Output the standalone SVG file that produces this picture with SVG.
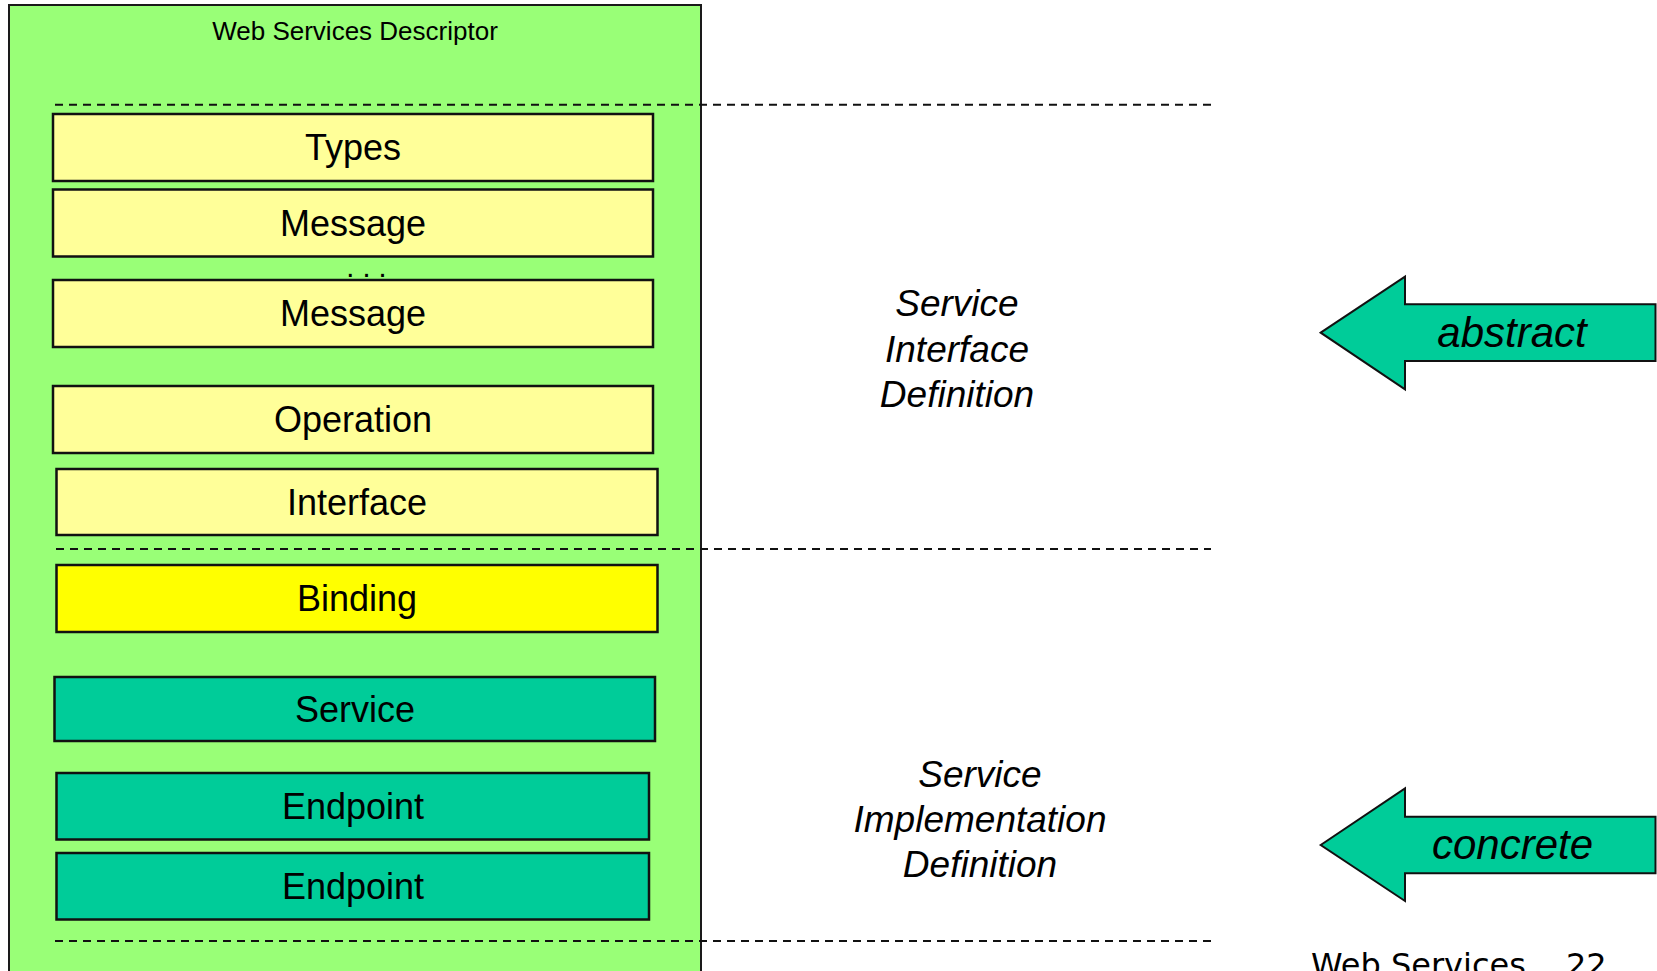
<svg xmlns="http://www.w3.org/2000/svg" width="1657" height="971" viewBox="0 0 1657 971">
  <style>
    .frame { fill: #99ff77; stroke: #1a1a1a; stroke-width: 2; }
    .box { stroke: #111; stroke-width: 2.5; }
    .abstract { fill: #ffff99; }
    .binding { fill: #ffff00; }
    .concrete { fill: #00cc99; }
    .label { font-family: "Liberation Sans", Arial, sans-serif; font-size: 36px; fill: #000; text-anchor: middle; }
    .title { font-family: "Liberation Sans", Arial, sans-serif; font-size: 26px; fill: #000; text-anchor: middle; }
    .side { font-family: "Liberation Sans", Arial, sans-serif; font-size: 37px; font-style: italic; fill: #000; text-anchor: middle; }
    .arrowtext { font-family: "Liberation Sans", Arial, sans-serif; font-size: 42px; font-style: italic; fill: #000; text-anchor: middle; }
    .sep { stroke: #111; stroke-width: 2; stroke-dasharray: 8 6; fill: none; }
    .arrow { fill: #00cc99; stroke: #111; stroke-width: 2; stroke-linejoin: miter; }
    .footer { font-family: "DejaVu Sans", Verdana, sans-serif; font-size: 32px; fill: #000; }
  </style>

  <!-- WSDL document container -->
  <g id="descriptor">
    <rect class="frame" x="9" y="5" width="692" height="985"/>
    <text class="title" x="355" y="40">Web Services Descriptor</text>
  </g>

  <!-- abstract part -->
  <g id="types">
    <rect class="box abstract" x="53" y="114" width="600" height="67"/>
    <text class="label" x="353" y="160">Types</text>
  </g>
  <g id="message1">
    <rect class="box abstract" x="53" y="189.5" width="600" height="67"/>
    <text class="label" x="353" y="236">Message</text>
  </g>
  <g id="ellipsis">
    <text class="label" x="366.5" y="277" style="font-size:29px">. . .</text>
  </g>
  <g id="message2">
    <rect class="box abstract" x="53" y="280" width="600" height="67"/>
    <text class="label" x="353" y="326">Message</text>
  </g>
  <g id="operation">
    <rect class="box abstract" x="53" y="386" width="600" height="67"/>
    <text class="label" x="353" y="432">Operation</text>
  </g>
  <g id="interface">
    <rect class="box abstract" x="56.5" y="469" width="601" height="66"/>
    <text class="label" x="357" y="514.5">Interface</text>
  </g>

  <!-- concrete part -->
  <g id="binding">
    <rect class="box binding" x="56.5" y="565" width="601" height="67"/>
    <text class="label" x="357" y="611">Binding</text>
  </g>
  <g id="service">
    <rect class="box concrete" x="54.5" y="677" width="600.5" height="64"/>
    <text class="label" x="355" y="721.5">Service</text>
  </g>
  <g id="endpoint1">
    <rect class="box concrete" x="56.5" y="773" width="592.5" height="66.5"/>
    <text class="label" x="353" y="818.5">Endpoint</text>
  </g>
  <g id="endpoint2">
    <rect class="box concrete" x="56.5" y="853" width="592.5" height="66.5"/>
    <text class="label" x="353" y="898.5">Endpoint</text>
  </g>

  <!-- section separators -->
  <g id="connectors">
    <line class="sep" x1="55" y1="104.7" x2="1211" y2="104.7"/>
    <line class="sep" x1="56" y1="549" x2="1211" y2="549"/>
    <line class="sep" x1="55" y1="941" x2="1211" y2="941"/>
  </g>

  <!-- section captions -->
  <g id="interface-definition">
    <text class="side" x="957" y="315.5">Service</text>
    <text class="side" x="957" y="361.5">Interface</text>
    <text class="side" x="957" y="406.5">Definition</text>
  </g>
  <g id="implementation-definition">
    <text class="side" x="980" y="786.5">Service</text>
    <text class="side" x="980" y="831.5">Implementation</text>
    <text class="side" x="980" y="876.5">Definition</text>
  </g>

  <!-- block arrows -->
  <g id="abstract-arrow">
    <polygon class="arrow" points="1320.7,332.7 1405,276.7 1405,304.3 1655.5,304.3 1655.5,361 1405,361 1405,389.3"/>
    <text class="arrowtext" x="1512" y="346.5">abstract</text>
  </g>
  <g id="concrete-arrow">
    <polygon class="arrow" points="1320.7,845 1405,788.3 1405,816.7 1655.5,816.7 1655.5,873.3 1405,873.3 1405,901"/>
    <text class="arrowtext" x="1512.5" y="859">concrete</text>
  </g>

  <!-- slide footer -->
  <g id="footer">
    <text class="footer" x="1311" y="976">Web Services</text>
    <text class="footer" x="1566" y="976">22</text>
  </g>
</svg>
